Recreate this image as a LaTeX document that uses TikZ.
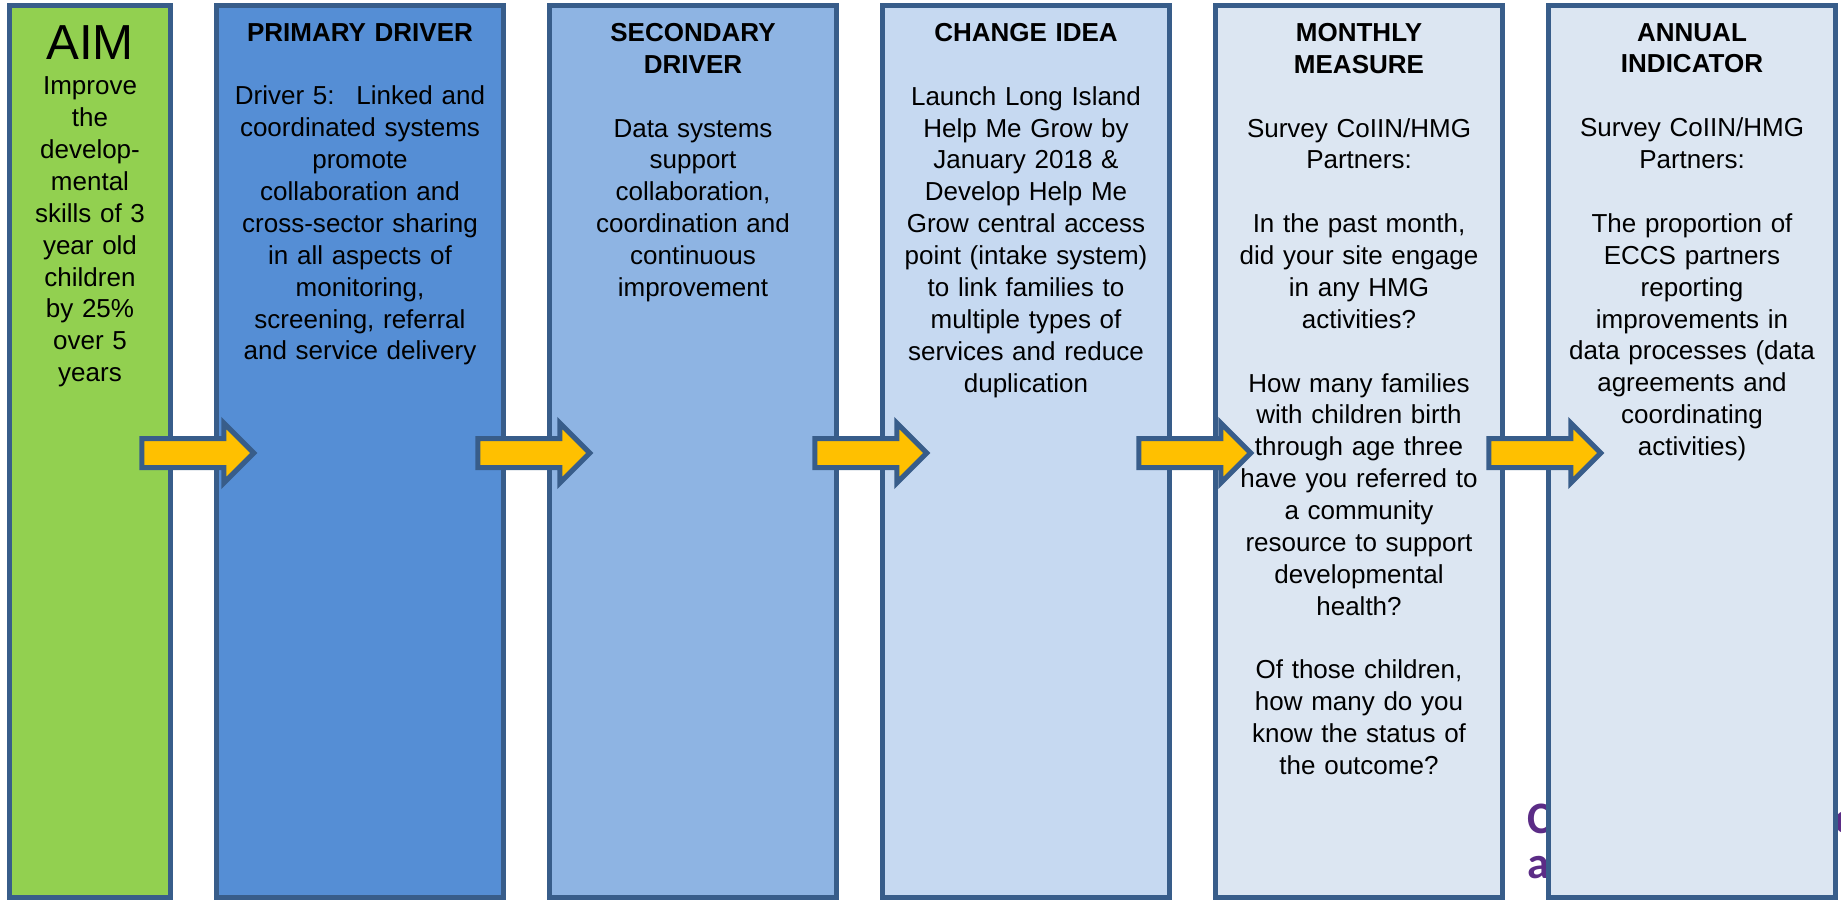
\documentclass[tikz,border=0pt]{standalone}
\usepackage{fontspec}
\setmainfont{Liberation Sans}
\newfontfamily\logofont{Carlito}
\usetikzlibrary{positioning, shapes.arrows, calc}

\definecolor{aimgreen}{HTML}{92D050}
\definecolor{primaryblue}{HTML}{558ED5}
\definecolor{secondaryblue}{HTML}{8EB4E3}
\definecolor{changeblue}{HTML}{C6D9F1}
\definecolor{measureblue}{HTML}{DCE6F2}
\definecolor{edgeblue}{HTML}{385D8A}
\definecolor{arrowyellow}{HTML}{FFC000}
\definecolor{logopurple}{HTML}{5B2C86}

\begin{document}
\begin{tikzpicture}[
    node distance=0.41cm,
    column/.style={draw=edgeblue, line width=0.05cm, rectangle, minimum width=2.87cm, minimum height=8.92cm, inner sep=0pt},
    coltext/.style={inner sep=0pt, align=center, text width=2.8cm, font=\fontsize{7.4}{9.07}\selectfont},
    blockarrow/.style={single arrow, draw=edgeblue, fill=arrowyellow, line width=0.05cm, minimum height=1.12cm, minimum width=0pt, inner sep=0pt, text height=0.24cm, text depth=0pt, single arrow head extend=0.155cm}
]
\useasboundingbox (0,0) rectangle (18.41,-9);

% Text hinter der letzten Spalte
\node[anchor=north west, inner sep=0pt, align=left, text=logopurple, font=\logofont\bfseries\fontsize{12.8}{12.8}\selectfont] (logo) at (15.27,-8.03) {C\hspace{2.83cm}e\\a};

% Spalten
\node[column, fill=aimgreen, minimum width=1.61cm] (aim) at (0.90,-4.515) {};
\node[column, fill=primaryblue, right=of aim] (primary) {};
\node[column, fill=secondaryblue, right=of primary] (secondary) {};
\node[column, fill=changeblue, right=of secondary] (change) {};
\node[column, fill=measureblue, right=of change] (monthly) {};
\node[column, fill=measureblue, right=of monthly] (annual) {};

% Texte
\node[coltext, text width=1.55cm, below=0.215cm of aim.north] (aimtxt) {%
    {\fontsize{14}{16}\selectfont AIM}\\[1.1pt]
    Improve\\ the\\ develop-\\ mental\\ skills of 3\\ year old\\ children\\ by 25\%\\ over 5\\ years};
\node[coltext, below=0.195cm of primary.north] (primarytxt) {%
    \textbf{PRIMARY DRIVER}\\[\baselineskip]
    Driver 5:~ Linked and\\ coordinated systems\\ promote\\ collaboration and\\
    cross-sector sharing\\ in all aspects of\\ monitoring,\\ screening, referral\\ and service delivery};
\node[coltext, below=0.195cm of secondary.north] (secondarytxt) {%
    \textbf{SECONDARY}\\ \textbf{DRIVER}\\[\baselineskip]
    Data systems\\ support\\ collaboration,\\ coordination and\\ continuous\\ improvement};
\node[coltext, below=0.195cm of change.north] (changetxt) {%
    \textbf{CHANGE IDEA}\\[\baselineskip]
    Launch Long Island\\ Help Me Grow by\\ January 2018 \&\\ Develop Help Me\\
    Grow central access\\ point (intake system)\\ to link families to\\
    multiple types of\\ services and reduce\\ duplication};
\node[coltext, below=0.195cm of monthly.north] (monthlytxt) {%
    \textbf{MONTHLY}\\ \textbf{MEASURE}\\[\baselineskip]
    Survey CoIIN/HMG\\ Partners:\\[\baselineskip]
    In the past month,\\ did your site engage\\ in any HMG\\ activities?\\[\baselineskip]
    How many families\\ with children birth\\ through age three\\ have you referred to\\
    a community\\ resource to support\\ developmental\\ health?\\[\baselineskip]
    Of those children,\\ how many do you\\ know the status of\\ the outcome?};
\node[coltext, below=0.195cm of annual.north] (annualtxt) {%
    \textbf{ANNUAL}\\ \textbf{INDICATOR}\\[\baselineskip]
    Survey CoIIN/HMG\\ Partners:\\[\baselineskip]
    The proportion of\\ ECCS partners\\ reporting\\ improvements in\\
    data processes (data\\ agreements and\\ coordinating\\ activities)};

% Pfeile
\foreach \a/\b/\s in {aim/primary/-0.03, primary/secondary/0.00, secondary/change/0.04,
                      change/monthly/-0.05, monthly/annual/0.12}
    \node[blockarrow] (arr\a) at ($(\a.east)!0.5!(\b.west)+(\s,-0.015)$) {};

\end{tikzpicture}
\end{document}
